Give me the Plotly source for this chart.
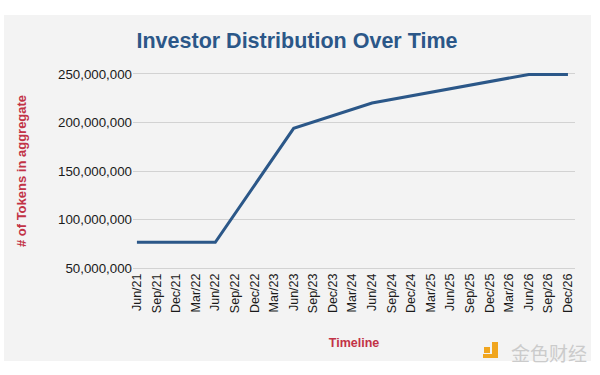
import plotly.graph_objects as go

categories = ["Jun/21", "Sep/21", "Dec/21", "Mar/22", "Jun/22", "Sep/22", "Dec/22", "Mar/23",
              "Jun/23", "Sep/23", "Dec/23", "Mar/24", "Jun/24", "Sep/24", "Dec/24", "Mar/25",
              "Jun/25", "Sep/25", "Dec/25", "Mar/26", "Jun/26", "Sep/26", "Dec/26"]
point_dates = ["Jun/21", "Jun/22", "Jun/23", "Jun/24", "Jun/26", "Dec/26"]
point_tokens = [76_500_000, 76_500_000, 194_000_000, 220_000_000, 249_500_000, 249_500_000]
y_ticks = [50_000_000, 100_000_000, 150_000_000, 200_000_000, 250_000_000]

W, H = 600, 375
L, R, T, B = 133, 25, 72, 105
pw, ph = W - L - R, H - T - B

def px(x):
    return (x - L) / pw

def py(y):
    return (H - B - y) / ph

BLUE = "#2b5788"
RED = "#c23246"
ORANGE = "#f0a51e"
FONT = "Liberation Sans, Arial, sans-serif"

fig = go.Figure()
fig.add_trace(go.Scatter(
    x=point_dates, y=point_tokens, mode="lines",
    line=dict(color=BLUE, width=3), hoverinfo="x+y", showlegend=False,
))

def box(x0, x1, y0, y1, color, layer="above"):
    return dict(type="rect", xref="paper", yref="paper", layer=layer,
                x0=px(x0), x1=px(x1), y0=py(y1), y1=py(y0),
                fillcolor=color, line=dict(width=0))

fig.update_layout(
    width=W, height=H,
    margin=dict(l=L, r=R, t=T, b=B),
    paper_bgcolor="white",
    plot_bgcolor="rgba(0,0,0,0)",
    font=dict(family=FONT, color="#222222", size=13),
    title=dict(text="<b>Investor Distribution Over Time</b>", x=297 / W, xref="container",
               xanchor="center", y=1 - 40 / H, yref="container", yanchor="middle",
               font=dict(size=21.5, color=BLUE, family=FONT)),
    xaxis=dict(type="category", categoryorder="array", categoryarray=categories,
               tickvals=categories, ticktext=categories, range=[-0.2, 22.36],
               tickangle=-90, showgrid=False, zeroline=False, showline=False,
               ticks="", ticklen=0, tickfont=dict(size=12.5, color="#1a1a1a"),
               title=dict(text="<b>Timeline</b>", font=dict(size=12.5, color=RED), standoff=26)),
    yaxis=dict(range=[48_000_000, 252_000_000], tickvals=y_ticks,
               tickformat=",d", showgrid=True, gridcolor="#d2d2d2", gridwidth=1.2,
               zeroline=False, showline=False, ticks="", ticklen=0,
               tickfont=dict(size=13.3, color="#1a1a1a"),
               title=dict(text="<b># of Tokens in aggregate</b>", font=dict(size=13, color=RED),
                          standoff=28)),
    shapes=[
        box(4, 591, 15, 361, "#f3f3f3", layer="below"),
        box(484, 490, 347, 353, ORANGE),
        box(492, 498, 342, 358, ORANGE),
        box(483, 498, 354, 358, ORANGE),
    ],
    annotations=[
        dict(text="金色财经", xref="paper", yref="paper", x=px(549), y=py(352),
             xanchor="center", yanchor="middle", showarrow=False,
             font=dict(size=19, color="#cbcbcb", family="Noto Sans CJK SC")),
    ],
)

fig.write_html("out.html", config={"displayModeBar": False},
               post_script="document.body.style.margin='0';document.body.style.padding='0';")
